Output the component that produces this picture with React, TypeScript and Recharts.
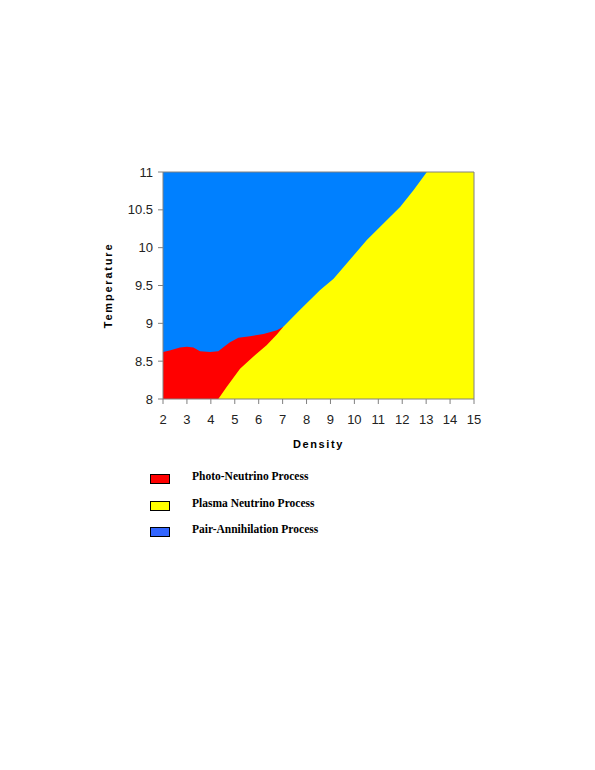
import React from 'react';
import {
  ComposedChart,
  Area,
  XAxis,
  YAxis,
  ReferenceLine,
  Label,
} from 'recharts';

// boundaries (density, log temperature)
const blueDensity = [2, 15];
const blueTemp = [11, 11];

const redDensity = [2, 2.28, 2.71, 3.0, 3.27, 3.55, 3.97, 4.31, 4.55, 4.8, 5.15, 5.64, 6.2, 6.76, 7.03];
const redTemp = [8.62, 8.64, 8.68, 8.69, 8.68, 8.63, 8.62, 8.63, 8.69, 8.75, 8.81, 8.83, 8.86, 8.91, 8.955];

const yellowDensity = [4.31, 4.66, 5.22, 5.77, 6.33, 6.75, 7.03, 7.73, 8.57, 9.13, 10.52, 11.92, 12.47, 13.03, 15];
const yellowTemp = [8.0, 8.16, 8.4, 8.56, 8.71, 8.85, 8.955, 9.18, 9.44, 9.59, 10.1, 10.54, 10.76, 11.0, 11.0];

const xTicks = [2, 3, 4, 5, 6, 7, 8, 9, 10, 11, 12, 13, 14, 15];
const yTicks = [8, 8.5, 9, 9.5, 10, 10.5, 11];

const legendLabels = ['Photo-Neutrino Process', 'Plasma Neutrino Process', 'Pair-Annihilation Process'];
const legendColors = ['#FF0000', '#FFFF00', '#3366FF'];

function buildRows() {
  const all = Array.from(new Set([...blueDensity, ...redDensity, ...yellowDensity])).sort((a, b) => a - b);
  const pick = (xs: number[], ys: number[], d: number) => {
    const i = xs.indexOf(d);
    return i >= 0 ? ys[i] : undefined;
  };
  return all.map((d) => ({
    density: d,
    blue: pick(blueDensity, blueTemp, d),
    red: pick(redDensity, redTemp, d),
    yellow: pick(yellowDensity, yellowTemp, d),
  }));
}

const tickStyle = { fontSize: 13, fill: '#222', fontFamily: '"Liberation Sans", Arial, sans-serif' };
const titleStyle = {
  fontSize: 11,
  fontWeight: 700,
  fill: '#000',
  fontFamily: '"Liberation Sans", Arial, sans-serif',
  letterSpacing: 1.6,
};

export default function App() {
  const rows = buildRows();

  return (
    <div style={{ position: 'absolute', left: 0, top: 0, width: 595, height: 770, background: '#fff' }}>
      <ComposedChart
        width={595}
        height={770}
        data={rows}
        margin={{ top: 172, right: 121, bottom: 321, left: 103 }}
      >
        <XAxis
          dataKey="density"
          type="number"
          domain={[2, 15]}
          ticks={xTicks}
          allowDataOverflow
          tick={tickStyle}
          tickSize={5}
          tickMargin={11}
          stroke="#808080"
          height={50}
        >
          <Label value="Density" position="insideBottom" offset={1} style={titleStyle} />
        </XAxis>
        <YAxis
          type="number"
          domain={[8, 11]}
          ticks={yTicks}
          allowDataOverflow
          tick={tickStyle}
          tickSize={5}
          tickMargin={5}
          stroke="#808080"
          width={60}
        >
          <Label value="Temperature" angle={-90} position="insideLeft" offset={5} style={{ ...titleStyle, letterSpacing: 1.8, textAnchor: 'middle' }} />
        </YAxis>
        <Area
          dataKey="blue"
          type="linear"
          stroke="none"
          fill="#0080FF"
          fillOpacity={1}
          connectNulls
          dot={false}
          activeDot={false}
          isAnimationActive={false}
        />
        <Area
          dataKey="red"
          type="linear"
          stroke="none"
          fill="#FF0000"
          fillOpacity={1}
          connectNulls
          dot={false}
          activeDot={false}
          isAnimationActive={false}
        />
        <Area
          dataKey="yellow"
          type="linear"
          stroke="none"
          fill="#FFFF00"
          fillOpacity={1}
          connectNulls
          dot={false}
          activeDot={false}
          isAnimationActive={false}
        />
        <ReferenceLine y={11} stroke="#808080" />
        <ReferenceLine x={15} stroke="#808080" />
      </ComposedChart>

      <div style={{ position: 'absolute', left: 150, top: 463 }}>
        {legendLabels.map((label, i) => (
          <div key={label} style={{ display: 'flex', alignItems: 'center', height: 26.5 }}>
            <span
              style={{
                width: 18,
                height: 8,
                background: legendColors[i],
                border: '1px solid #000',
                display: 'inline-block',
                marginTop: 6,
              }}
            />
            <span
              style={{
                marginLeft: 22,
                fontFamily: '"Liberation Serif", "Times New Roman", serif',
                fontWeight: 700,
                fontSize: 11.5,
                color: '#000',
              }}
            >
              {label}
            </span>
          </div>
        ))}
      </div>
    </div>
  );
}
